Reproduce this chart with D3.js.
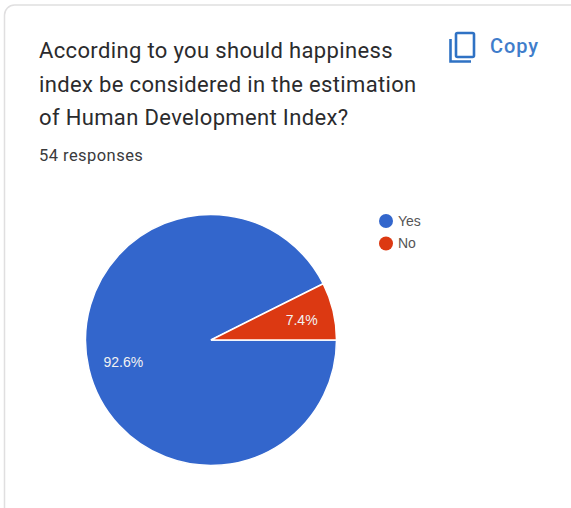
<!DOCTYPE html>
<html>
<head>
<meta charset="utf-8">
<script src="https://cdn.jsdelivr.net/npm/d3@7"></script>
<style>
html,body{margin:0;padding:0;background:#fff;overflow:hidden}
text{font-family:Roboto,"Liberation Sans",sans-serif}
</style>
</head>
<body>
<svg id="chart" width="571" height="508"></svg>
<script>
const titleLines = ["According to you should happiness", "index be considered in the estimation", "of Human Development Index?"];
const responseText = "54 responses";
const copyText = "Copy";
const categories = ["Yes", "No"];
const shares = [92.6, 7.4];
const sliceColors = ["#3366cc", "#dc3912"];

const svg = d3.select("#chart");

// Form-response card
svg.append("rect").attr("x", 4.5).attr("y", 5).attr("width", 620).attr("height", 560)
  .attr("rx", 10).attr("fill", "#fff").attr("stroke", "#e0dfe0").attr("stroke-width", 1.5);

// Question heading
svg.append("g").selectAll("text").data(titleLines).join("text")
  .attr("x", 39).attr("y", (d, i) => 58 + i * 33.5)
  .attr("font-size", 22).attr("letter-spacing", 0.35).attr("fill", "#2b2b2d").text(d => d);

svg.append("text").attr("x", 39).attr("y", 161)
  .attr("font-size", 16.5).attr("letter-spacing", 0.45).attr("fill", "#3a3a3c").text(responseText);

// Copy button: two overlapping page outlines plus a label
const copy = svg.append("g").attr("fill", "none").attr("stroke", "#2f72c4").attr("stroke-width", 2.6);
copy.append("rect").attr("x", 456).attr("y", 33).attr("width", 18).attr("height", 24).attr("rx", 1.5);
copy.append("path").attr("d", d3.line()([[450.5, 39], [450.5, 61.5], [471, 61.5]]));
svg.append("text").attr("x", 490).attr("y", 53)
  .attr("font-size", 20).attr("font-weight", 500).attr("letter-spacing", 0.9).attr("fill", "#3f7dcb").text(copyText);

// Pie, with the first slice starting at three o'clock
const cx = 211, cy = 340, radius = 125.5;
const pie = d3.pie().sort(null).startAngle(Math.PI / 2).endAngle(Math.PI / 2 + 2 * Math.PI);
const arcs = pie(shares);
const arc = d3.arc().innerRadius(0).outerRadius(radius);
const labelArc = d3.arc().innerRadius(radius * 0.73).outerRadius(radius * 0.73);

const plot = svg.append("g").attr("transform", `translate(${cx},${cy})`);
plot.selectAll("path").data(arcs).join("path")
  .attr("d", arc)
  .attr("fill", (d, i) => sliceColors[i])
  .attr("stroke", "#fff").attr("stroke-width", 1.5);

plot.selectAll("text").data(arcs).join("text")
  .attr("transform", d => `translate(${labelArc.centroid(d)})`)
  .attr("text-anchor", "middle").attr("dx", 1.5).attr("dy", "0.4em")
  .attr("font-size", 14).attr("fill", "#f2f2f2")
  .style("font-family", "'Liberation Sans',Arial,sans-serif")
  .text(d => d.value + "%");

// Legend
const legendY = d3.scalePoint().domain(categories).range([221, 243.5]);
const legend = svg.append("g").selectAll("g").data(categories).join("g")
  .attr("transform", d => `translate(386,${legendY(d)})`);
legend.append("circle").attr("r", 7).attr("fill", (d, i) => sliceColors[i]);
legend.append("text").attr("x", 12).attr("dy", "0.35em")
  .attr("font-size", 14).attr("fill", "#555")
  .style("font-family", "'Liberation Sans',Arial,sans-serif").text(d => d);
</script>
</body>
</html>
